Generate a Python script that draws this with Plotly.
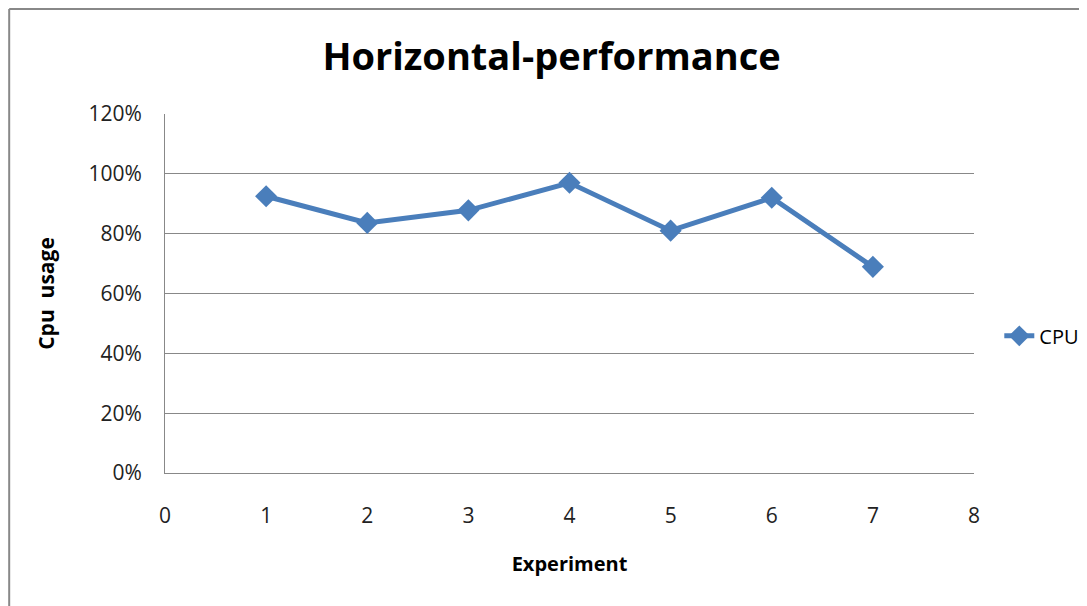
import plotly.graph_objects as go

experiments = [1, 2, 3, 4, 5, 6, 7]
cpu_usage = [0.925, 0.836, 0.878, 0.970, 0.810, 0.920, 0.689]
x_ticks = [0, 1, 2, 3, 4, 5, 6, 7, 8]
y_ticks = [0, 0.2, 0.4, 0.6, 0.8, 1.0, 1.2]

blue = "#4A7EBB"
fig = go.Figure()
fig.add_trace(go.Scatter(
    x=experiments, y=cpu_usage, name="CPU", mode="lines+markers",
    line=dict(color=blue, width=5),
    marker=dict(symbol="diamond", size=17, color=blue),
    showlegend=True,
))

font_fam = "Open Sans, Arial, sans-serif"
# page body has an 8px default margin, margins compensate for it
PL, PT, PW, PH = 157, 106, 810, 359
fig.update_layout(
    width=1087, height=606,
    margin=dict(l=PL, r=1087 - PL - PW, t=PT, b=606 - PT - PH),
    paper_bgcolor="white", plot_bgcolor="white",
    font=dict(family=font_fam, color="#222", size=18),
    showlegend=True,
    title=dict(text="<b>Horizontal-performance</b>", x=0.5, xanchor="center",
               y=0.92, yanchor="middle",
               font=dict(size=38, color="black", family=font_fam)),
    xaxis=dict(range=[0, 8], tickvals=x_ticks, showgrid=False,
               showline=True, linecolor="#888", linewidth=1,
               zeroline=False, ticks="", ticklabelstandoff=24,
               tickfont=dict(size=21),
               title=dict(text="<b>Experiment</b>", standoff=28,
                          font=dict(size=20, color="black"))),
    yaxis=dict(range=[0, 1.2], tickvals=y_ticks, tickformat=".0%",
               showgrid=True, gridcolor="#888", gridwidth=1,
               showline=True, linecolor="#888", linewidth=1,
               zeroline=False, ticks="", ticklabelstandoff=18,
               tickfont=dict(size=21),
               title=dict(text="<b>Cpu  usage</b>", standoff=28,
                          font=dict(size=21, color="black"))),
    legend=dict(x=1.03, y=0.382, xanchor="left", yanchor="middle",
                font=dict(size=20, color="black"), bgcolor="rgba(0,0,0,0)",
                itemwidth=30),
    shapes=[
        dict(type="line", xref="paper", yref="paper",
             x0=(1 - PL) / PW, x1=(1 - PL) / PW,
             y0=-(606 - PT - PH) / PH, y1=1 + (PT - 1) / PH,
             line=dict(color="#888", width=2)),
        dict(type="line", xref="paper", yref="paper",
             x0=(1 - PL) / PW, x1=(1087 - PL) / PW,
             y0=1 + (PT - 1) / PH, y1=1 + (PT - 1) / PH,
             line=dict(color="#888", width=2)),
    ],
)

fig.write_html("out.html")
